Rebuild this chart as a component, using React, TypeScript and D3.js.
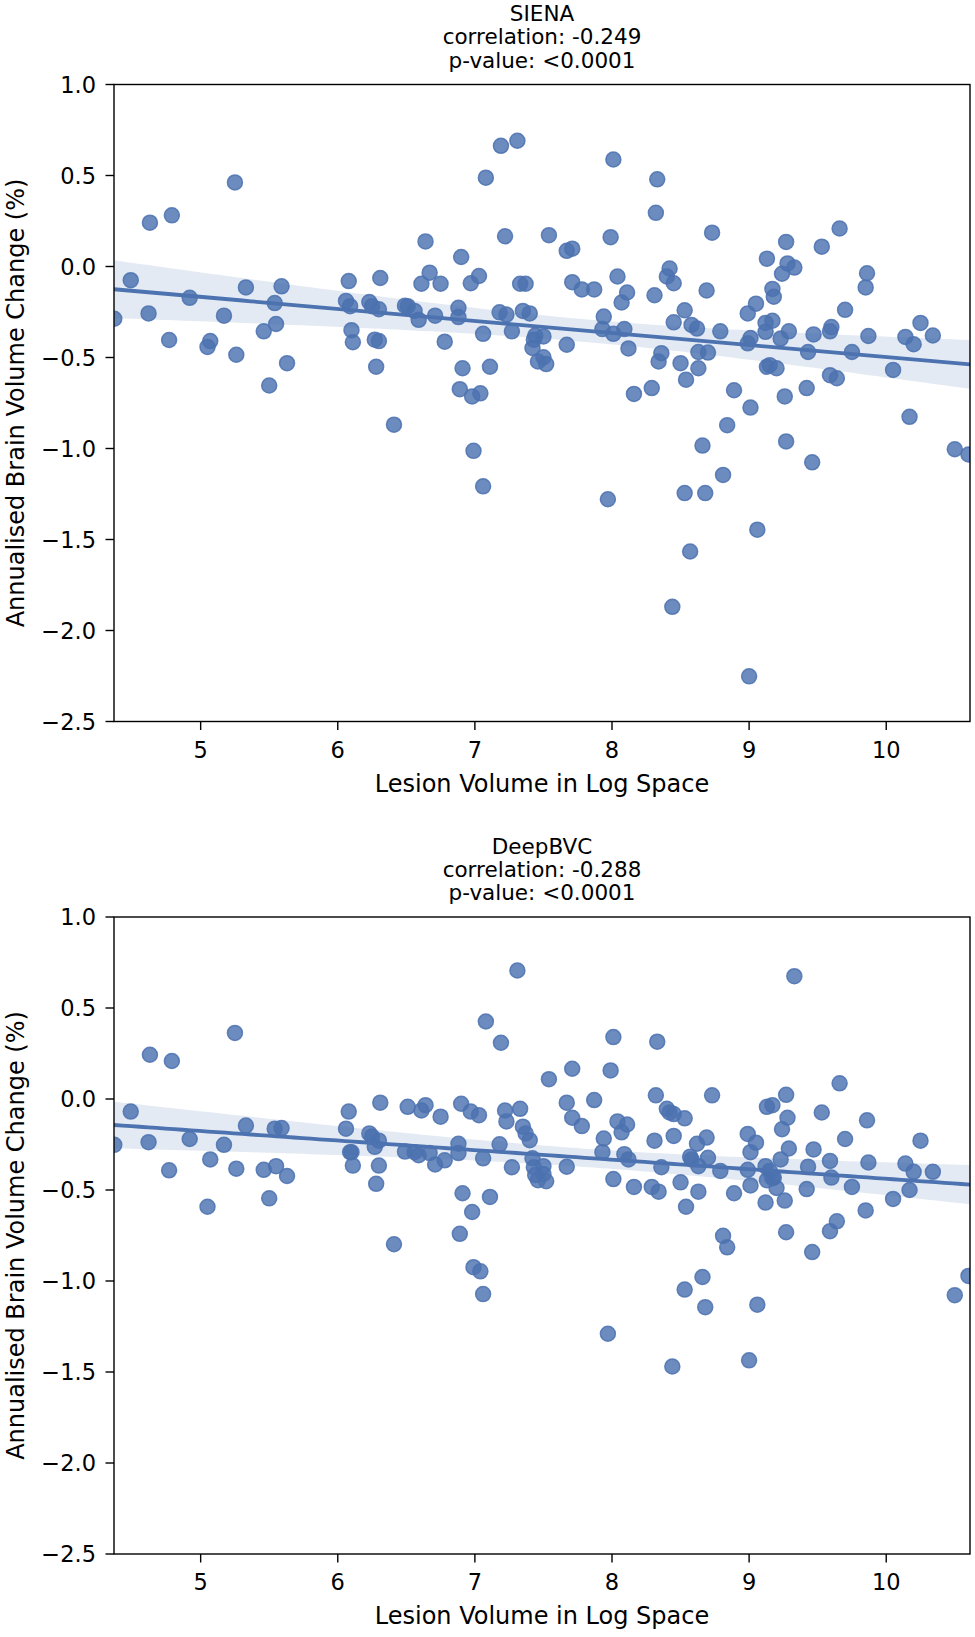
import { useEffect, useRef } from 'react'
import { select, scaleLinear, mean, sum, range, area, line } from 'd3'

// lesion volume (log space), shared by both methods
const lesionVolume = [
  4.37, 4.49, 4.63, 4.62, 4.77, 4.79, 4.92, 5.05, 5.07, 5.17,
  5.25, 5.26, 5.33, 5.46, 5.5, 5.54, 5.55, 5.59, 5.63, 6.08,
  6.06, 6.09, 6.1, 6.11, 6.23, 6.25, 6.27, 6.28, 6.3, 6.31,
  6.3, 6.41, 6.49, 6.51, 6.56, 6.59, 6.61, 6.64, 6.67, 6.71,
  6.75, 6.78, 6.88, 6.88, 6.89, 6.9, 6.91, 6.97, 6.98, 6.99,
  7.03, 7.04, 7.06, 7.06, 7.08, 7.11, 7.19, 7.18, 7.22, 7.23,
  7.27, 7.31, 7.33, 7.35, 7.37, 7.4, 7.42, 7.43, 7.44, 7.46,
  7.5, 7.5, 7.52, 7.54, 7.67, 7.71, 7.67, 7.71, 7.78, 7.87,
  7.94, 7.93, 7.97, 7.99, 8.01, 8.01, 8.04, 8.07, 8.09, 8.11,
  8.12, 8.16, 8.29, 8.31, 8.32, 8.33, 8.34, 8.36, 8.4, 8.42,
  8.45, 8.45, 8.44, 8.5, 8.53, 8.54, 8.53, 8.57, 8.58, 8.62,
  8.63, 8.63, 8.66, 8.68, 8.69, 8.7, 8.73, 8.79, 8.81, 8.84,
  8.89, 8.99, 8.99, 9.01, 9.01, 9.0, 9.05, 9.06, 9.12, 9.13,
  9.12, 9.13, 9.15, 9.17, 9.18, 9.2, 9.17, 9.23, 9.24, 9.26,
  9.27, 9.27, 9.28, 9.29, 9.33, 9.42, 9.43, 9.46, 9.47, 9.53,
  9.59, 9.6, 9.59, 9.64, 9.66, 9.7, 9.75, 9.85, 9.86, 9.87,
  10.05, 10.14, 10.17, 10.2, 10.25, 10.34, 10.5, 10.6,
]

const sienaChange = [
  -0.287, -0.075, 0.241, -0.258, -0.404, 0.281, -0.172, -0.442, -0.41, -0.27,
  0.462, -0.485, -0.115, -0.356, -0.654, -0.201, -0.316, -0.109, -0.531, -0.08,
  -0.189, -0.218, -0.35, -0.416, -0.195, -0.218, -0.402, -0.551, -0.41, -0.063,
  -0.235, -0.869, -0.215, -0.218, -0.244, -0.293, -0.095, 0.138, -0.034, -0.27,
  -0.095, -0.413, -0.227, -0.278, -0.674, 0.052, -0.559, -0.092, -0.714, -1.013,
  -0.052, -0.697, -0.37, -1.208, 0.488, -0.551, 0.663, -0.252, 0.166, -0.264,
  -0.356, 0.691, -0.095, -0.244, -0.095, -0.258, -0.448, -0.402, -0.379, -0.522,
  -0.384, -0.499, -0.536, 0.172, 0.086, 0.098, -0.43, -0.086, -0.126, -0.126,
  -0.275, -0.344, -1.279, 0.161, 0.588, -0.37, -0.055, -0.198, -0.344, -0.143,
  -0.45, -0.7, -0.668, -0.158, 0.295, 0.479, -0.522, -0.476, -0.055, -0.011,
  -0.092, -0.307, -1.87, -0.531, -0.241, -0.622, -1.245, -1.566, -0.321, -0.341,
  -0.559, -0.47, -0.984, -1.245, -0.132, -0.473, 0.186, -0.356, -1.145, -0.872,
  -0.68, -0.258, -0.422, -0.393, -0.775, -2.252, -0.204, -1.446, -0.31, 0.043,
  -0.359, -0.551, -0.542, -0.123, -0.166, -0.559, -0.298, -0.396, -0.04, -0.714,
  0.135, -0.961, 0.017, -0.356, -0.006, -0.668, -0.47, -1.076, -0.373, 0.109,
  -0.356, -0.333, -0.597, -0.614, 0.209, -0.238, -0.47, -0.115, -0.037, -0.382,
  -0.568, -0.387, -0.826, -0.427, -0.31, -0.379, -1.004, -1.033,
]

const deepbvcChange = [
  -0.252, -0.069, 0.243, -0.237, -0.392, 0.209, -0.22, -0.592, -0.332, -0.252,
  0.363, -0.383, -0.146, -0.389, -0.546, -0.163, -0.369, -0.16, -0.423, -0.069,
  -0.163, -0.292, -0.292, -0.366, -0.189, -0.206, -0.263, -0.466, -0.366, -0.02,
  -0.229, -0.798, -0.289, -0.043, -0.292, -0.309, -0.063, -0.034, -0.297, -0.36,
  -0.097, -0.337, -0.246, -0.297, -0.741, -0.026, -0.518, -0.069, -0.621, -0.924,
  -0.089, -0.947, -0.326, -1.072, 0.426, -0.538, 0.309, -0.249, -0.063, -0.123,
  -0.375, 0.706, -0.054, -0.152, -0.189, -0.226, -0.326, -0.375, -0.418, -0.446,
  -0.369, -0.412, -0.452, 0.109, -0.02, 0.166, -0.372, -0.103, -0.149, -0.006,
  -0.217, -0.292, -1.29, 0.157, 0.34, -0.44, -0.123, -0.183, -0.303, -0.14,
  -0.332, -0.483, -0.483, -0.229, 0.02, 0.315, -0.509, -0.375, -0.054, -0.074,
  -0.083, -0.203, -1.47, -0.458, -0.106, -0.592, -1.047, -0.317, -0.332, -0.246,
  -0.509, -0.369, -0.978, -1.144, -0.212, -0.323, 0.02, -0.395, -0.752, -0.815,
  -0.518, -0.192, -0.389, -0.292, -0.475, -1.436, -0.24, -1.13, -0.369, -0.043,
  -0.569, -0.446, -0.395, -0.034, -0.432, -0.489, -0.435, -0.332, -0.166, -0.558,
  0.023, -0.732, -0.103, -0.272, 0.675, -0.495, -0.372, -0.841, -0.277, -0.074,
  -0.34, -0.432, -0.726, -0.672, 0.086, -0.22, -0.483, -0.612, -0.117, -0.349,
  -0.549, -0.355, -0.5, -0.4, -0.229, -0.4, -1.078, -0.972,
]

const panelTitles = ['SIENA', 'DeepBVC']
const panelCorrelations = ['-0.249', '-0.288']
const panelPValues = ['<0.0001', '<0.0001']

const xTicks = [5, 6, 7, 8, 9, 10]
const yTicks = [1.0, 0.5, 0.0, -0.5, -1.0, -1.5, -2.0, -2.5]
const xLimits = [4.368, 10.611]
const yLimits = [-2.5, 1.0]

const WIDTH = 975
const HEIGHT = 1637
const BLUE = '#4C72B0'
const FONT = '"DejaVu Sans", sans-serif'

const App = () => {
  const svgRef = useRef(null)

  useEffect(() => {
    const svg = select(svgRef.current)
    svg.selectAll('*').remove()

    const left = 114
    const right = 970
    const plotHeight = 637
    const tops = [84.5, 917]

    const x = scaleLinear().domain(xLimits).range([left, right])
    const series = [sienaChange, deepbvcChange]

    series.forEach((values, p) => {
      const top = tops[p]
      const y = scaleLinear().domain(yLimits).range([top + plotHeight, top])
      const g = svg.append('g')

      const clipId = `clip-${p}`
      g.append('clipPath')
        .attr('id', clipId)
        .append('rect')
        .attr('x', left)
        .attr('y', top)
        .attr('width', right - left)
        .attr('height', plotHeight)

      const plot = g.append('g').attr('clip-path', `url(#${clipId})`)

      // scatter
      plot
        .selectAll('circle')
        .data(values)
        .join('circle')
        .attr('cx', (_, i) => x(lesionVolume[i]))
        .attr('cy', (d) => y(d))
        .attr('r', 7.5)
        .attr('fill', BLUE)
        .attr('fill-opacity', 0.82)
        .attr('stroke', BLUE)
        .attr('stroke-opacity', 0.85)
        .attr('stroke-width', 1.5)

      // ordinary least squares fit + 95% CI of the mean
      const n = values.length
      const mx = mean(lesionVolume)!
      const my = mean(values)!
      const sxx = sum(lesionVolume, (v) => (v - mx) ** 2)
      const sxy = sum(values, (v, i) => (lesionVolume[i] - mx) * (v - my))
      const slope = sxy / sxx
      const intercept = my - slope * mx
      const resid = sum(values, (v, i) => (v - (intercept + slope * lesionVolume[i])) ** 2)
      const s = Math.sqrt(resid / (n - 2))
      const tCrit = 1.974
      const grid = range(0, 101).map((k) => xLimits[0] + ((xLimits[1] - xLimits[0]) * k) / 100)
      const fit = grid.map((gx) => {
        const yhat = intercept + slope * gx
        const se = s * Math.sqrt(1 / n + (gx - mx) ** 2 / sxx)
        return { gx, yhat, lo: yhat - tCrit * se, hi: yhat + tCrit * se }
      })

      plot
        .append('path')
        .datum(fit)
        .attr('fill', BLUE)
        .attr('fill-opacity', 0.15)
        .attr(
          'd',
          area<any>()
            .x((d) => x(d.gx))
            .y0((d) => y(d.lo))
            .y1((d) => y(d.hi))
        )

      plot
        .append('path')
        .datum(fit)
        .attr('fill', 'none')
        .attr('stroke', BLUE)
        .attr('stroke-width', 3.8)
        .attr(
          'd',
          line<any>()
            .x((d) => x(d.gx))
            .y((d) => y(d.yhat))
        )

      // frame
      g.append('rect')
        .attr('x', left)
        .attr('y', top)
        .attr('width', right - left)
        .attr('height', plotHeight)
        .attr('fill', 'none')
        .attr('stroke', '#000')
        .attr('stroke-width', 1.4)

      // x ticks
      const bottom = top + plotHeight
      xTicks.forEach((t) => {
        g.append('line')
          .attr('x1', x(t))
          .attr('x2', x(t))
          .attr('y1', bottom)
          .attr('y2', bottom + 8.5)
          .attr('stroke', '#000')
          .attr('stroke-width', 1.4)
        g.append('text')
          .attr('x', x(t))
          .attr('y', bottom + 36)
          .attr('text-anchor', 'middle')
          .attr('font-family', FONT)
          .attr('font-size', 22.5)
          .text(String(t))
      })

      // y ticks
      yTicks.forEach((t) => {
        g.append('line')
          .attr('x1', left - 8.5)
          .attr('x2', left)
          .attr('y1', y(t))
          .attr('y2', y(t))
          .attr('stroke', '#000')
          .attr('stroke-width', 1.4)
        g.append('text')
          .attr('x', left - 18)
          .attr('y', y(t) + 8.2)
          .attr('text-anchor', 'end')
          .attr('font-family', FONT)
          .attr('font-size', 22.5)
          .text(t.toFixed(1).replace('-', '\u2212'))
      })

      // axis labels
      g.append('text')
        .attr('x', (left + right) / 2)
        .attr('y', bottom + 70)
        .attr('text-anchor', 'middle')
        .attr('font-family', FONT)
        .attr('font-size', 24)
        .text('Lesion Volume in Log Space')

      g.append('text')
        .attr('transform', `translate(24, ${top + plotHeight / 2}) rotate(-90)`)
        .attr('text-anchor', 'middle')
        .attr('font-family', FONT)
        .attr('font-size', 24)
        .text('Annualised Brain Volume Change (%)')

      // title
      const titleLines = [
        panelTitles[p],
        `correlation: ${panelCorrelations[p]}`,
        `p-value: ${panelPValues[p]}`,
      ]
      titleLines.forEach((txt, k) => {
        g.append('text')
          .attr('x', (left + right) / 2)
          .attr('y', top - 63.5 + k * 23.3)
          .attr('text-anchor', 'middle')
          .attr('font-family', FONT)
          .attr('font-size', 21.5)
          .text(txt)
      })
    })
  }, [])

  return (
    <svg
      ref={svgRef}
      width={WIDTH}
      height={HEIGHT}
      style={{ position: 'absolute', left: 0, top: 0, background: '#fff' }}
    />
  )
}

export default App
